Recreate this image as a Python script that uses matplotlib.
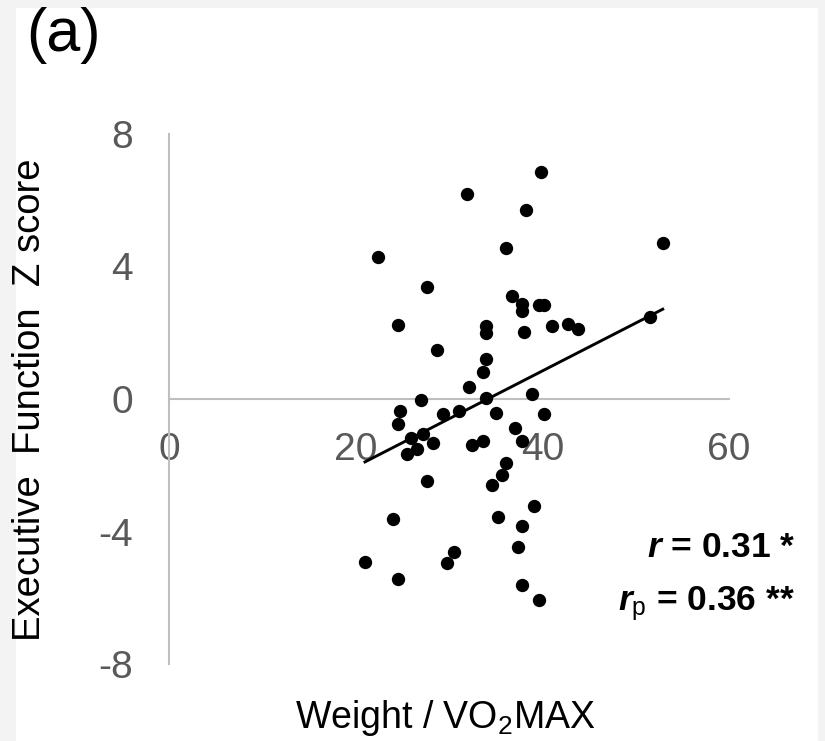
import numpy as np
import matplotlib
matplotlib.use("Agg")
import matplotlib.pyplot as plt
from matplotlib.patches import Rectangle

plt.rcParams['font.family'] = ['Liberation Sans', 'DejaVu Sans']
plt.rcParams['mathtext.fontset'] = 'custom'
plt.rcParams['mathtext.it'] = 'Liberation Sans:italic:bold'
plt.rcParams['mathtext.rm'] = 'Liberation Sans'
plt.rcParams['axes.unicode_minus'] = False

# valores (peso / VO2max, escore Z da funcao executiva)
weight_vo2 = [39.9, 31.9, 38.2, 22.4, 36.1, 27.6, 36.7, 37.8, 37.8, 39.6,
              40.2, 38.0, 41.0, 42.7, 43.8, 51.5, 52.9, 38.9, 24.5, 34.0,
              34.0, 28.7, 34.0, 33.6, 32.1, 27.0, 34.0, 24.8, 24.5, 29.4,
              31.1, 35.0, 40.2, 25.9, 27.2, 28.3, 26.6, 25.5, 32.5, 33.6,
              37.1, 37.8, 36.1, 35.7, 34.6, 27.6, 24.0, 39.1, 35.3, 37.8,
              37.4, 30.5, 29.8, 21.0, 24.5, 37.8, 39.6]
ef_zscore = [6.86, 6.18, 5.70, 4.30, 4.55, 3.37, 3.12, 2.87, 2.65, 2.85,
             2.85, 2.01, 2.19, 2.26, 2.11, 2.49, 4.71, 0.14, 2.23, 2.21,
             1.98, 1.47, 1.22, 0.83, 0.36, -0.02, 0.04, -0.36, -0.74, -0.46,
             -0.36, -0.41, -0.44, -1.17, -1.07, -1.32, -1.52, -1.66, -1.40, -1.27,
             -0.87, -1.27, -1.93, -2.28, -2.61, -2.48, -3.63, -3.24, -3.57, -3.82,
             -4.48, -4.61, -4.96, -4.93, -5.43, -5.60, -6.07]

x_ticks = [0, 20, 40, 60]
y_ticks = [-8, -4, 0, 4, 8]
stat_lines = [r'$r$ = 0.31 *', r'$r_\mathrm{p}$ = 0.36 **']

x = np.array(weight_vo2)
y = np.array(ef_zscore)

fig = plt.figure(figsize=(8.25, 7.41), dpi=100)
fig.patch.set_facecolor('#f3f3f3')
# painel branco (a imagem original tem uma borda cinza clara)
fig.patches.append(Rectangle((16 / 825, 0), (818 - 16) / 825, 1 - 8 / 741,
                             transform=fig.transFigure, facecolor='white',
                             edgecolor='none', zorder=-10))

ax = fig.add_axes([169 / 825, 1 - 664 / 741, 560 / 825, 530 / 741])
ax.set_facecolor('none')

ax.scatter(x, y, s=92, color='black', zorder=3, linewidths=0)

# linha de tendencia linear
coef = np.polyfit(x, y, 1)
xl = np.array([x.min(), x.max()])
ax.plot(xl, np.polyval(coef, xl), color='black', lw=2.1, zorder=4)

ax.set_xlim(0, 60)
ax.set_ylim(-8, 8)
ax.set_xticks(x_ticks)
ax.set_yticks(y_ticks)

for s in ['top', 'right']:
    ax.spines[s].set_visible(False)
ax.spines['bottom'].set_position(('data', 0))
ax.spines['bottom'].set_color('#bfbfbf')
ax.spines['left'].set_color('#bfbfbf')
ax.spines['bottom'].set_linewidth(1.5)
ax.spines['left'].set_linewidth(1.5)
ax.spines['bottom'].set_zorder(1)

ax.tick_params(axis='both', length=0, labelsize=28, labelcolor='#595959')
ax.tick_params(axis='x', pad=24)
ax.tick_params(axis='y', pad=26)

fig.text(445 / 825, 1 - 718 / 741, 'Weight / VO$_\\mathrm{2}$MAX',
         ha='center', va='center', fontsize=27)
fig.text(30 / 825, 1 - 400 / 741, 'Executive  Function  Z score',
         ha='center', va='center', rotation=90, fontsize=27.5)
fig.text(26 / 825, 1 - 36 / 741, '(a)', ha='left', va='center', fontsize=44)

ax.text(1.118, 0.202, stat_lines[0], transform=ax.transAxes, ha='right',
        va='baseline', fontsize=25.5, fontweight='bold')
ax.text(1.118, 0.102, stat_lines[1], transform=ax.transAxes, ha='right',
        va='baseline', fontsize=25.5, fontweight='bold')

plt.savefig('out.png', dpi=100, facecolor=fig.get_facecolor())
